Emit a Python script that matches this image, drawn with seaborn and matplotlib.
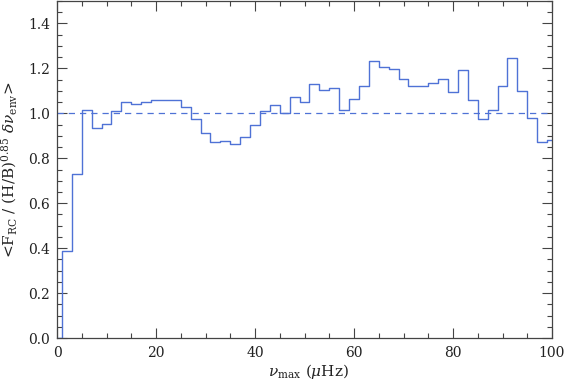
import numpy as np
import pandas as pd
import seaborn as sns
import matplotlib.pyplot as plt
from matplotlib.ticker import MultipleLocator

# nu_max bin centres (muHz) and the normalised ratio
nu_max = list(range(0, 101, 2))
ratio = [0.00, 0.389, 0.728, 1.016, 0.936, 0.951, 1.010, 1.049, 1.040, 1.050,
         1.061, 1.061, 1.058, 1.027, 0.976, 0.913, 0.871, 0.876, 0.862, 0.896,
         0.947, 1.010, 1.038, 1.000, 1.071, 1.052, 1.129, 1.102, 1.111, 1.015,
         1.062, 1.120, 1.231, 1.207, 1.198, 1.152, 1.120, 1.120, 1.133, 1.152,
         1.093, 1.191, 1.058, 0.975, 1.015, 1.120, 1.247, 1.099, 0.978, 0.871,
         0.882]

df = pd.DataFrame({'nu_max': nu_max, 'ratio': ratio})

sns.set_style("ticks")
plt.rcParams['font.family'] = ['DejaVu Serif']
plt.rcParams['mathtext.fontset'] = 'dejavuserif'

blue = '#4f72d6'

fig = plt.figure(figsize=(5.66, 3.84), dpi=100)
ax = fig.add_axes([57 / 566, 1 - 338 / 384, (552 - 57) / 566, (338 - 1) / 384])

sns.lineplot(data=df, x='nu_max', y='ratio', ax=ax, color=blue,
             drawstyle='steps-mid', linewidth=1.0)
ax.plot([0, 100], [1.0, 1.0], color=blue, linestyle=(0, (5, 4)), linewidth=0.9)

ax.set_xlim(0, 100)
ax.set_ylim(0, 1.5)
ax.xaxis.set_major_locator(MultipleLocator(20))
ax.xaxis.set_minor_locator(MultipleLocator(5))
ax.yaxis.set_minor_locator(MultipleLocator(0.05))
ax.set_yticks(np.arange(0, 1.41, 0.2))
ax.set_yticklabels([f'{v:.1f}' for v in np.arange(0, 1.41, 0.2)])
ax.tick_params(which='both', direction='in', top=True, right=True,
               colors='#444444', labelcolor='#222222', labelsize=10)
ax.tick_params(which='major', length=7, width=0.8)
ax.tick_params(which='minor', length=3.5, width=0.8)
ax.tick_params(axis='y', pad=5)
ax.tick_params(axis='x', pad=6)
for s in ax.spines.values():
    s.set_color('#444444')
    s.set_linewidth(0.9)

ax.set_xlabel(r'$\nu_{\rm max}$ ($\mu$Hz)', fontsize=11, color='#222222')
ax.set_ylabel(r'<F$_{\rm RC}$ / (H/B)$^{0.85}$ $\delta\nu_{\rm env}$>',
              fontsize=11, color='#222222')
ax.xaxis.set_label_coords(0.509, -0.072)
ax.yaxis.set_label_coords(-0.077, 0.5)

plt.savefig('out.png', dpi=100)
